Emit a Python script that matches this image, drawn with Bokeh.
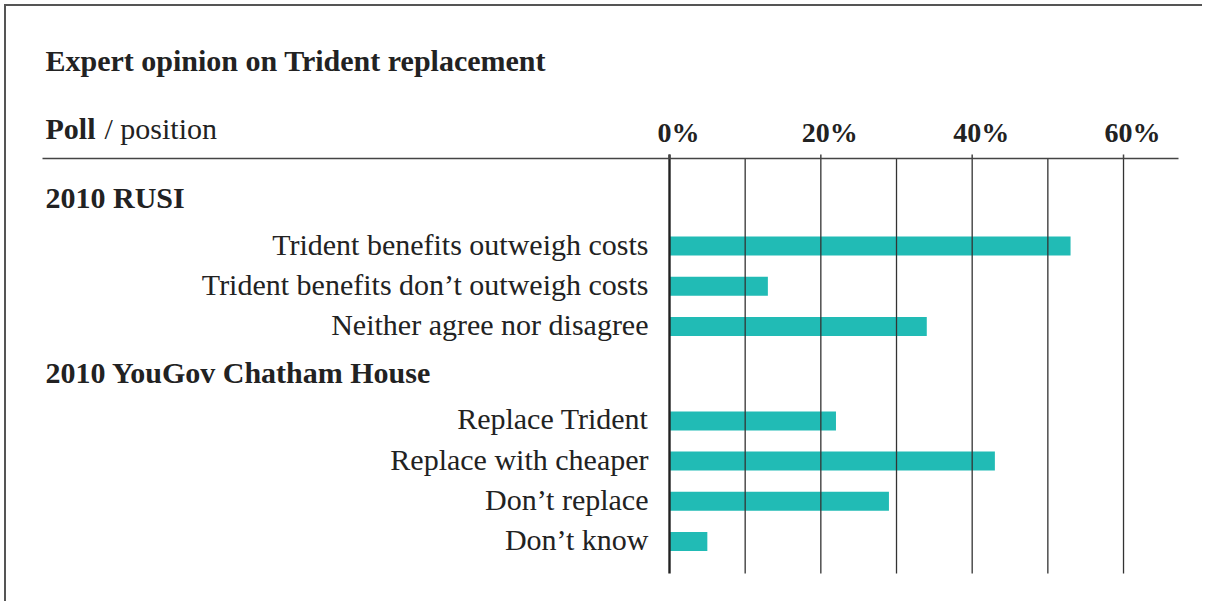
from bokeh.plotting import figure
from bokeh.models import Range1d, ColumnDataSource
from bokeh.core.properties import value
from bokeh.embed import file_html
from bokeh.resources import INLINE

# ---- data ----
chart_title = "Expert opinion on Trident replacement"
header_bold = "Poll"
header_rest = "/ position"
group_names = ["2010 RUSI", "2010 YouGov Chatham House"]
rusi_labels = ["Trident benefits outweigh costs",
               "Trident benefits don\u2019t outweigh costs",
               "Neither agree nor disagree"]
rusi_values = [53, 13, 34]
yougov_labels = ["Replace Trident", "Replace with cheaper",
                 "Don\u2019t replace", "Don\u2019t know"]
yougov_values = [22, 43, 29, 5]
tick_values = [0, 20, 40, 60]
tick_labels = ["0%", "20%", "40%", "60%"]
grid_values = [0, 10, 20, 30, 40, 50, 60]

# ---- layout (page pixels) ----
W, H = 1198, 597
ORIGIN = 6                 # canvas origin on the page (margin + border)
FONT = value("Liberation Serif")
TEXT = "#222222"
TEAL = "#21bbb5"
LINE = "#333333"
ZERO_PX = 669              # page x of the 0% line
PX_PER = 7.567             # page px per percentage point
RULE_Y = 158               # page y of the header rule
GRID_BOTTOM = 573          # page y where gridlines end
LEFT_TEXT = 45             # page x where left-aligned texts start


def px2x(px):
    return (px - ZERO_PX) / PX_PER


def py2y(py):
    return py - RULE_Y


x_range = Range1d(px2x(ORIGIN), px2x(ORIGIN + W))
y_range = Range1d(py2y(ORIGIN + H), py2y(ORIGIN))

# vertical layout of rows (y = px below the rule)
first_header = 39
header_to_row = 48.5
row_step = 40.2
group_gap = 46
groups = [(group_names[0], rusi_labels, rusi_values),
          (group_names[1], yougov_labels, yougov_values)]
hdr_y, hdr_t, row_y, row_t, row_v = [], [], [], [], []
y = first_header
for name, labs, vals in groups:
    hdr_y.append(y)
    hdr_t.append(name)
    yy = y + header_to_row
    for lab, v in zip(labs, vals):
        row_y.append(yy)
        row_t.append(lab)
        row_v.append(v)
        yy += row_step
    y = yy - row_step + group_gap

p = figure(width=W, height=H, x_range=x_range, y_range=y_range,
           x_axis_location=None, y_axis_location=None,
           output_backend="svg", toolbar_location=None,
           min_border=0,
           styles={"margin-left": "4px", "margin-top": "4px",
                   "border-left": "2px solid #555555", "border-top": "2px solid #555555"})
p.outline_line_color = None
p.background_fill_color = "white"
p.border_fill_color = "white"
p.xgrid.visible = False
p.ygrid.visible = False

src = ColumnDataSource(dict(y=row_y, v=row_v, t=row_t, yt=[v - 2 for v in row_y]))
p.hbar(y="y", left=0, right="v", height=19, source=src, fill_color=TEAL, line_color=None)

# gridlines (over the bars)
grid_bottom = py2y(GRID_BOTTOM)
p.segment(x0=grid_values[1:], y0=0, x1=grid_values[1:], y1=grid_bottom,
          line_color=LINE, line_width=1.3)
# zero line
p.segment(x0=grid_values[:1], y0=-4, x1=grid_values[:1], y1=grid_bottom,
          line_color="#222222", line_width=2.4)
# header rule + tick marks
p.segment(x0=[px2x(42)], y0=0, x1=[px2x(1178)], y1=0, line_color="#444444", line_width=1.6)
p.segment(x0=tick_values, y0=-4, x1=tick_values, y1=0, line_color="#444444", line_width=1.5)

# tick labels
p.text(x=tick_values, y=py2y(132), text=tick_labels, x_offset=9,
       text_align="center", text_baseline="middle", text_font=FONT,
       text_font_size="28px", text_font_style="bold", text_color=TEXT)

# row labels
p.text(x=0, y="yt", text="t", source=src, x_offset=-21, text_align="right",
       text_baseline="middle", text_font=FONT, text_font_size="30px", text_color=TEXT)

# group headers
p.text(x=px2x(LEFT_TEXT), y=hdr_y, text=hdr_t, text_align="left",
       text_baseline="middle", text_font=FONT, text_font_size="30px",
       text_font_style="bold", text_color=TEXT)

# title and column header
p.text(x=[px2x(LEFT_TEXT)], y=[py2y(59.5)], text=[chart_title], text_align="left",
       text_baseline="middle", text_font=FONT, text_font_size="30px",
       text_font_style="bold", text_color=TEXT)
p.text(x=[px2x(LEFT_TEXT)], y=[py2y(128)], text=[header_bold], text_align="left",
       text_baseline="middle", text_font=FONT, text_font_size="30px",
       text_font_style="bold", text_color=TEXT)
p.text(x=[px2x(104)], y=[py2y(128)], text=[header_rest], text_align="left",
       text_baseline="middle", text_font=FONT, text_font_size="30px", text_color=TEXT)

open("out.html", "w").write(file_html(p, INLINE))
